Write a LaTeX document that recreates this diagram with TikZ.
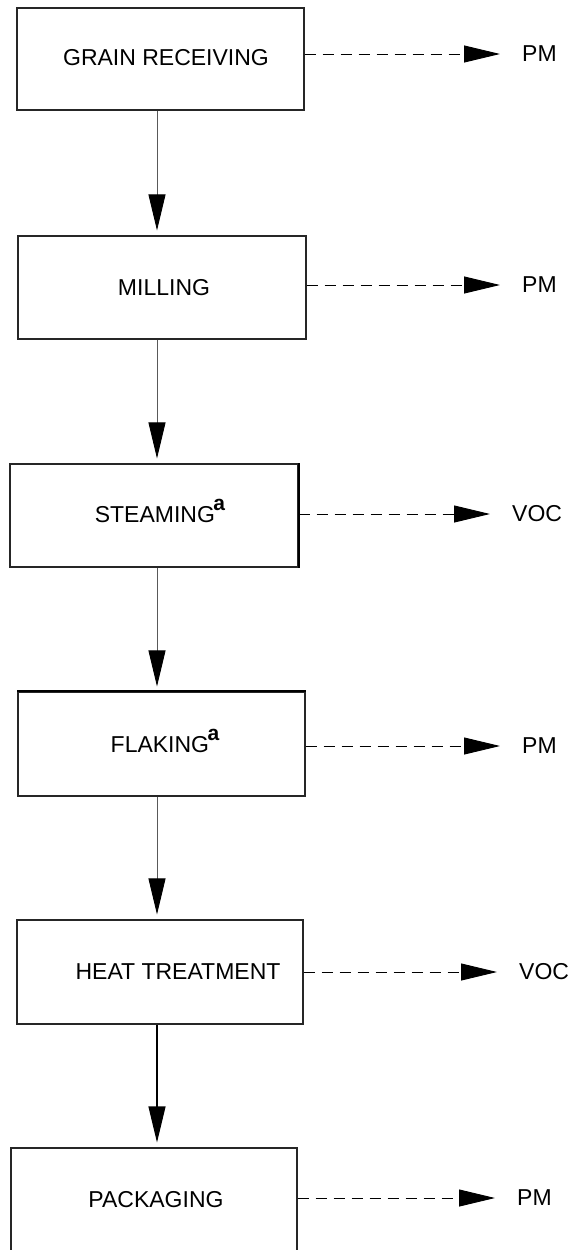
\documentclass[tikz,border=0pt]{standalone}
\usepackage{fontspec}
\setmainfont{Liberation Sans}
\usetikzlibrary{arrows.meta}
\newcommand\mysupa{\raisebox{12pt}{\kern-1.5pt\fontsize{21}{21}\selectfont\bfseries a}}
\begin{document}
\begin{tikzpicture}[x=1pt,y=-1pt,
 box/.style={draw=black!85, line width=1.1pt, rectangle, inner sep=0pt},
 lbl/.style={inner sep=0pt, anchor=base, font=\fontsize{23}{23}\selectfont},
 outlbl/.style={inner sep=0pt, anchor=west, font=\fontsize{23}{23}\selectfont},
 flow/.style={draw=black!65, line width=0.9pt, -{Triangle[length=36pt,width=17pt,black]}, shorten >=5pt},
 flowdark/.style={flow, draw=black, line width=1.1pt},
 emit/.style={draw=black, line width=0.9pt, dash pattern=on 11pt off 7pt, -{Triangle[length=36pt,width=17pt,black]}, shorten >=22pt}]
\useasboundingbox (0,0) rectangle (577,1250);
\fill[white] (0,0) rectangle (577,1250);
% boxes
\node[box, minimum width=287pt, minimum height=102pt] (b1) at (160.5,59) {};
\node[box, minimum width=288pt, minimum height=103pt] (b2) at (162,287.5) {};
\node[box, minimum width=288pt, minimum height=103pt] (b3) at (154,515.5) {};
\node[box, minimum width=287pt, minimum height=104pt] (b4) at (161.5,744) {};
\node[box, minimum width=286pt, minimum height=104pt] (b5) at (160,972) {};
\node[box, minimum width=286pt, minimum height=106pt] (b6) at (154,1201) {};
\draw[line width=2pt] (b3.north east) -- (b3.south east);
\draw[line width=2pt] (b4.north west) -- (b4.north east);
% box texts
\node[lbl] (t1) at (166,65) {GRAIN RECEIVING};
\node[lbl] (t2) at (164,295) {MILLING};
\node[lbl] (t3) at (160,522) {STEAMING\mysupa};
\node[lbl] (t4) at (165,752) {FLAKING\mysupa};
\node[lbl] (t5) at (178,979) {HEAT TREATMENT};
\node[lbl] (t6) at (156,1207) {PACKAGING};
% outputs
\node[outlbl] (o1) at (522,54) {PM};
\node[outlbl] (o2) at (522,285) {PM};
\node[outlbl] (o3) at (512,514) {VOC};
\node[outlbl] (o4) at (522,746) {PM};
\node[outlbl] (o5) at (519,972) {VOC};
\node[outlbl] (o6) at (517,1198) {PM};
% vertical flow
\coordinate (ax) at (157,0);
\draw[flow] (b1.south -| ax) -- (b2.north -| ax);
\draw[flow] (b2.south -| ax) -- (b3.north -| ax);
\draw[flow] (b3.south -| ax) -- (b4.north -| ax);
\draw[flow] (b4.south -| ax) -- (b5.north -| ax);
\draw[flowdark] (b5.south -| ax) -- (b6.north -| ax);
% emissions
\draw[emit] (b1.east |- o1) -- (o1.west);
\draw[emit] (b2.east |- o2) -- (o2.west);
\draw[emit] (b3.east |- o3) -- (o3.west);
\draw[emit] (b4.east |- o4) -- (o4.west);
\draw[emit] (b5.east |- o5) -- (o5.west);
\draw[emit] (b6.east |- o6) -- (o6.west);
\end{tikzpicture}
\end{document}
